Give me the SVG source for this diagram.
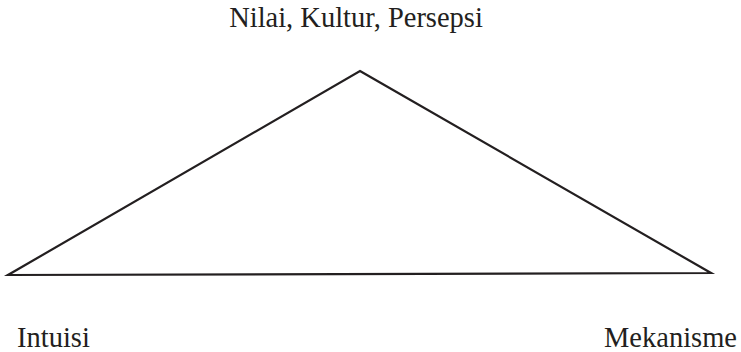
<svg xmlns="http://www.w3.org/2000/svg" width="741" height="352" viewBox="0 0 741 352">
<style>
text{font-family:"Liberation Serif","Times New Roman",serif;font-size:28.5px;fill:#231f20}
.edge{fill:none;stroke:#231f20;stroke-width:2.2;stroke-linejoin:miter}
</style>
<rect width="741" height="352" fill="#ffffff"/>
<g id="connectors">
<polygon class="edge" points="360,71 711,273 8,275"/>
</g>
<g id="node-top"><text x="356" y="27" text-anchor="middle">Nilai, Kultur, Persepsi</text></g>
<g id="node-left"><text x="17" y="347">Intuisi</text></g>
<g id="node-right"><text x="737" y="347" text-anchor="end">Mekanisme</text></g>
</svg>
